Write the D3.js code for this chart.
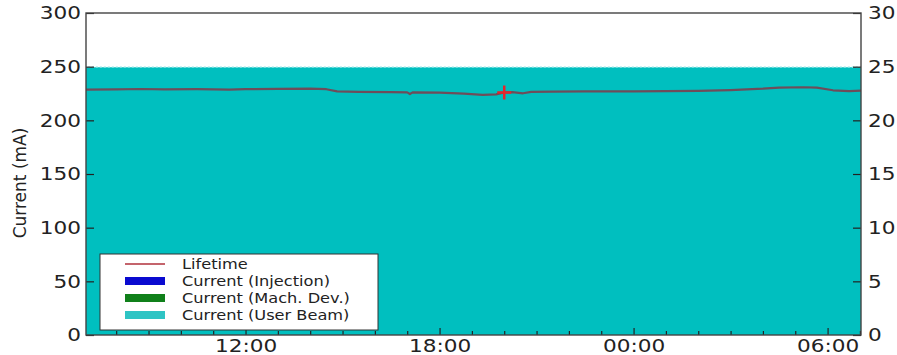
<!DOCTYPE html>
<meta charset="utf-8">
<style>
    body { margin: 0; background: #fff; }
    text { font-family: "DejaVu Sans", sans-serif; fill: #222; }
    .axis path { display: none; }
    .axis line { stroke: #222; stroke-width: 1.2; }
</style>
<body>
<script src="https://d3js.org/d3.v7.min.js"></script>
<script>
    // beam current (mA), top-up mode
    var currentTimes = ["2013-05-10 07:00", "2013-05-10 13:00", "2013-05-10 19:00", "2013-05-11 01:00", "2013-05-11 07:10"];
    var currentValues = [249.5, 249.5, 249.5, 249.5, 249.5];
    var injectionTimes = [], injectionValues = [];
    var machDevTimes = [], machDevValues = [];

    // lifetime (h), right axis
    var lifeTimes = ["2013-05-10 07:00", "2013-05-10 08:00", "2013-05-10 08:45", "2013-05-10 09:30", "2013-05-10 10:30",
        "2013-05-10 11:30", "2013-05-10 12:00", "2013-05-10 13:00", "2013-05-10 14:00", "2013-05-10 14:30",
        "2013-05-10 14:50", "2013-05-10 15:30", "2013-05-10 16:30", "2013-05-10 17:00", "2013-05-10 17:05",
        "2013-05-10 17:10", "2013-05-10 18:00", "2013-05-10 18:45", "2013-05-10 19:20", "2013-05-10 19:45",
        "2013-05-10 20:00", "2013-05-10 20:15", "2013-05-10 20:35", "2013-05-10 20:50", "2013-05-10 21:30",
        "2013-05-10 22:30", "2013-05-11 00:00", "2013-05-11 01:00", "2013-05-11 02:00", "2013-05-11 03:00",
        "2013-05-11 04:00", "2013-05-11 04:30", "2013-05-11 05:15", "2013-05-11 05:40", "2013-05-11 06:10",
        "2013-05-11 06:40", "2013-05-11 07:10"];
    var lifeValues = [22.85, 22.88, 22.92, 22.88, 22.90,
        22.86, 22.90, 22.93, 22.95, 22.90,
        22.70, 22.66, 22.62, 22.60, 22.45,
        22.60, 22.58, 22.48, 22.38, 22.42,
        22.60, 22.62, 22.52, 22.65, 22.68,
        22.70, 22.70, 22.72, 22.74, 22.82,
        22.95, 23.05, 23.08, 23.05, 22.80,
        22.72, 22.78];

    var eventTimes = ["2013-05-10 20:00"];
    var eventValues = [22.6];

    var leftTicks = [0, 50, 100, 150, 200, 250, 300];
    var rightTicks = [0, 5, 10, 15, 20, 25, 30];
    var legendLabels = ["Lifetime", "Current (Injection)", "Current (Mach. Dev.)", "Current (User Beam)"];
    var legendColors = ["#c4646c", "#0a0ad0", "#10801a", "#2ec4c4"];

    var width = 897, height = 355;
    var margin = { left: 86, right: 36, top: 13, bottom: 20 };
    var parse = d3.timeParse("%Y-%m-%d %H:%M");

    var x = d3.scaleTime()
        .domain([parse("2013-05-10 07:04"), parse("2013-05-11 07:02")])
        .range([margin.left, width - margin.right]);
    var y = d3.scaleLinear().domain([0, 300]).range([height - margin.bottom, margin.top]);
    var y2 = d3.scaleLinear().domain([0, 30]).range([height - margin.bottom, margin.top]);

    var svg = d3.select("body").append("svg")
        .attr("width", width)
        .attr("height", height);

    svg.append("clipPath").attr("id", "clip").append("rect")
        .attr("x", margin.left).attr("y", margin.top)
        .attr("width", width - margin.left - margin.right)
        .attr("height", height - margin.top - margin.bottom);

    var plot = svg.append("g").attr("clip-path", "url(#clip)");

    var cur = currentTimes.map(function (t, i) { return { t: parse(t), v: currentValues[i] }; });
    var area = d3.area()
        .x(function (d) { return x(d.t); })
        .y0(y(0))
        .y1(function (d) { return y(d.v); });

    plot.append("path").datum(cur)
        .attr("d", area)
        .attr("fill", "#00bfbf");
    plot.append("path").datum(cur)
        .attr("d", d3.line().x(function (d) { return x(d.t); }).y(function (d) { return y(d.v); }))
        .attr("fill", "none")
        .attr("stroke", "#8fe6e6")
        .attr("stroke-width", 1.2)
        .attr("stroke-dasharray", "2,2");

    [[injectionTimes, injectionValues, "#0000ff"], [machDevTimes, machDevValues, "#008000"]].forEach(function (s) {
        var d = s[0].map(function (t, i) { return { t: parse(t), v: s[1][i] }; });
        if (d.length) plot.append("path").datum(d).attr("d", area).attr("fill", s[2]);
    });

    var life = lifeTimes.map(function (t, i) { return { t: parse(t), v: lifeValues[i] }; });
    plot.append("path").datum(life)
        .attr("d", d3.line().x(function (d) { return x(d.t); }).y(function (d) { return y2(d.v); }))
        .attr("fill", "none")
        .attr("stroke", "#6e4d5a")
        .attr("stroke-width", 2.2)
        .attr("stroke-linejoin", "round");

    plot.selectAll(".event")
        .data(eventTimes.map(function (t, i) { return { t: parse(t), v: eventValues[i] }; }))
        .enter().append("path")
        .attr("transform", function (d) { return "translate(" + x(d.t) + "," + y2(d.v) + ")"; })
        .attr("d", "M-7,0H7M0,-7V7")
        .attr("stroke", "#e3262c")
        .attr("stroke-width", 2.5);

    // stretch text horizontally (the picture is wider than tall)
    function stretch(sel, k) {
        sel.each(function () {
            var t = d3.select(this);
            var tx = +t.attr("x") || 0;
            t.attr("x", 0).attr("transform", "translate(" + tx + ",0) scale(" + k + ",1)");
        });
    }

    var hours = x.ticks(d3.timeHour.every(1));
    var bottom = svg.append("g").attr("class", "axis")
        .attr("transform", "translate(0," + y(0) + ")")
        .call(d3.axisBottom(x).tickValues(hours)
            .tickSize(-4).tickPadding(4)
            .tickFormat(function (d) { return d.getHours() % 6 === 0 ? d3.timeFormat("%H:%M")(d) : ""; }));
    bottom.selectAll(".tick line")
        .attr("y2", function (d) { return d.getHours() % 6 === 0 ? -7 : -4; });
    bottom.selectAll("text").style("font-size", "18px");
    stretch(bottom.selectAll("text"), 1.2);

    var left = svg.append("g").attr("class", "axis")
        .attr("transform", "translate(" + margin.left + ",0)")
        .call(d3.axisLeft(y).tickValues(leftTicks).tickSize(-8).tickPadding(5));
    left.selectAll("text").style("font-size", "18px");
    stretch(left.selectAll("text"), 1.2);

    var right = svg.append("g").attr("class", "axis")
        .attr("transform", "translate(" + (width - margin.right) + ",0)")
        .call(d3.axisRight(y2).tickValues(rightTicks).tickSize(-8).tickPadding(7));
    right.selectAll("text").style("font-size", "18px");
    stretch(right.selectAll("text"), 1.2);

    // spines
    svg.append("rect")
        .attr("x", margin.left).attr("y", margin.top)
        .attr("width", width - margin.left - margin.right)
        .attr("height", height - margin.top - margin.bottom)
        .attr("fill", "none")
        .attr("stroke", "#444")
        .attr("stroke-width", 1.4);

    svg.append("text")
        .attr("transform", "translate(26," + ((margin.top + height - margin.bottom) / 2 + 9) + ") rotate(-90)")
        .attr("text-anchor", "middle")
        .style("font-size", "17px")
        .text("Current (mA)");

    // legend
    var lg = svg.append("g").attr("transform", "translate(100,254)");
    lg.append("rect")
        .attr("width", 278).attr("height", 76)
        .attr("fill", "#fff")
        .attr("stroke", "#333")
        .attr("stroke-width", 1);
    var row = lg.selectAll(".row").data(legendLabels).enter().append("g")
        .attr("transform", function (d, i) { return "translate(0," + (10 + i * 17) + ")"; });
    row.each(function (d, i) {
        var g = d3.select(this);
        if (i === 0) {
            g.append("line").attr("x1", 25).attr("x2", 65)
                .attr("stroke", legendColors[i]).attr("stroke-width", 2);
        } else {
            g.append("rect").attr("x", 25).attr("y", -4).attr("width", 40).attr("height", 8)
                .attr("fill", legendColors[i]);
        }
        g.append("text").attr("x", 82).attr("dy", "0.36em")
            .style("font-size", "13.5px")
            .text(d);
    });
    stretch(row.selectAll("text"), 1.2);
</script>
</body>
